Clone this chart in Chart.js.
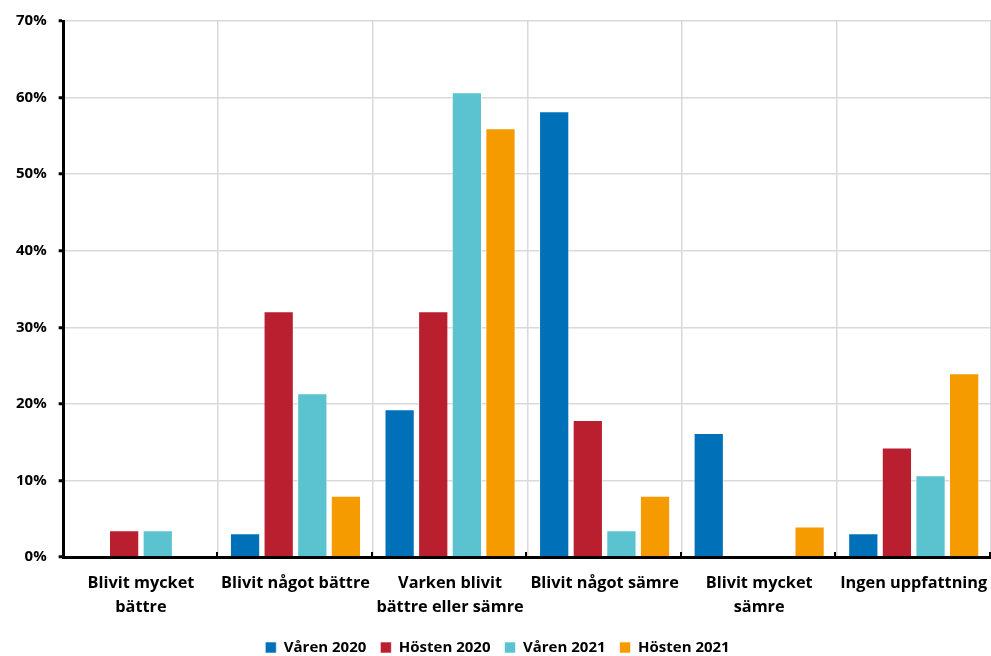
<!DOCTYPE html>
<html lang="sv">
<head>
<meta charset="utf-8">
<script src="https://cdn.jsdelivr.net/npm/chart.js@4/dist/chart.umd.min.js"></script>
<style>
  html, body { margin: 0; padding: 0; background: #fff; }
  #wrap { width: 991px; height: 656px; position: relative; }
</style>
</head>
<body>
<div id="wrap"><canvas id="chart"></canvas></div>
<script>
// Kategorier och andelar (procent) per mättillfälle
const kategorier = [
    ['Blivit mycket', 'bättre'],
    'Blivit något bättre',
    ['Varken blivit', 'bättre eller sämre'],
    'Blivit något sämre',
    ['Blivit mycket', 'sämre'],
    'Ingen uppfattning'
];
const varen2020 = [0, 3.1, 19.3, 58.2, 16.2, 3.1];
const hosten2020 = [3.5, 32.1, 32.1, 17.9, 0, 14.3];
const varen2021 = [3.5, 21.4, 60.7, 3.5, 0, 10.7];
const hosten2021 = [0, 8.0, 56.0, 8.0, 4.0, 24.0];
const yTicks = [0, 10, 20, 30, 40, 50, 60, 70];

const font = '"Open Sans", Lato, sans-serif';

// Små svarta streck vid kategorigränserna, uppåt från x-axeln
const innerTicks = {
    id: 'innerTicks',
    afterDraw(chart) {
        const x = chart.scales.x;
        const y = chart.scales.y;
        const ctx = chart.ctx;
        const n = chart.data.labels.length;
        const step = (x.right - x.left) / n;
        ctx.save();
        ctx.strokeStyle = '#000';
        ctx.lineWidth = 2;
        for (let i = 1; i <= n; i++) {
            const px = Math.round(x.left + i * step) - 1;
            ctx.beginPath();
            ctx.moveTo(px, y.bottom);
            ctx.lineTo(px, y.bottom - 5);
            ctx.stroke();
        }
        ctx.restore();
    }
};

// Legenden tar lite mindre plats under raden
const compactLegend = {
    id: 'compactLegend',
    beforeLayout(chart) {
        const legend = chart.legend;
        if (!legend || legend._compact) return;
        const fit = legend.fit;
        legend.fit = function () {
            fit.call(this);
            this.height -= 9;
        };
        legend._compact = true;
    }
};

function serie(label, data, color) {
    return {
        label: label,
        data: data,
        backgroundColor: color,
        borderColor: 'rgba(255,255,255,0.6)',
        borderWidth: 1,
        categoryPercentage: 0.87,
        barPercentage: 0.9
    };
}

new Chart(document.getElementById('chart'), {
    type: 'bar',
    data: {
        labels: kategorier,
        datasets: [
            serie('Våren 2020', varen2020, '#0070b8'),
            serie('Hösten 2020', hosten2020, '#b91f2e'),
            serie('Våren 2021', varen2021, '#5bc2d0'),
            serie('Hösten 2021', hosten2021, '#f59b00')
        ]
    },
    options: {
        responsive: true,
        maintainAspectRatio: false,
        animation: false,
        layout: { padding: { top: 1, right: 0, left: 4, bottom: 0 } },
        plugins: {
            legend: {
                position: 'bottom',
                labels: {
                    boxWidth: 11,
                    boxHeight: 11,
                    padding: 14,
                    color: '#000',
                    font: { family: font, size: 15, weight: 'bold' }
                }
            },
            tooltip: { enabled: false }
        },
        scales: {
            x: {
                offset: true,
                afterFit(scale) {
                    // sista etiketten ryms ändå, ingen extra marginal till höger
                    scale.paddingRight = 0;
                    scale.height -= 7;
                },
                grid: {
                    offset: true,
                    color: '#d9d9d9',
                    lineWidth: 1.5,
                    drawTicks: false
                },
                border: { color: '#000', width: 3 },
                ticks: {
                    padding: 14,
                    color: '#000',
                    maxRotation: 0,
                    font: { family: font, size: 16.3, weight: 'bold', lineHeight: 1.47 }
                }
            },
            y: {
                min: 0,
                max: 70,
                afterBuildTicks(scale) {
                    scale.ticks = yTicks.map(v => ({ value: v }));
                },
                grid: {
                    color: '#d9d9d9',
                    lineWidth: 1.5,
                    tickColor: '#000',
                    tickLength: 5,
                    tickWidth: 3
                },
                border: { color: '#000', width: 3 },
                ticks: {
                    padding: 12,
                    color: '#000',
                    font: { family: font, size: 15, weight: 'bold' },
                    callback: v => v + '%'
                }
            }
        }
    },
    plugins: [innerTicks, compactLegend]
});
</script>
</body>
</html>
